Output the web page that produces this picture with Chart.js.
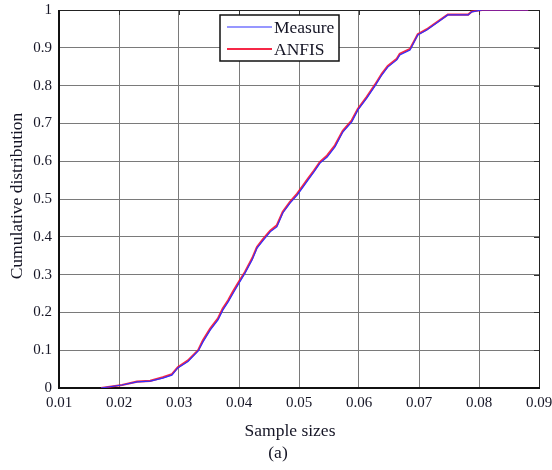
<!DOCTYPE html>
<html>
<head>
<meta charset="utf-8">
<script src="https://cdn.jsdelivr.net/npm/chart.js@4.4.1/dist/chart.umd.min.js"></script>
<style>
  body { margin: 0; background: #fff; }
  #wrap { width: 552px; height: 470px; }
</style>
</head>
<body>
<div id="wrap"><canvas id="chart"></canvas></div>
<script>
// sample sizes where the cumulative curve steps
const sizes = [0.0170, 0.0205, 0.0230, 0.0252, 0.0273, 0.0288, 0.0298, 0.0315, 0.0332, 0.0340,
  0.0352, 0.0365, 0.0373, 0.0382, 0.0390, 0.0398, 0.0410, 0.0422, 0.0430, 0.0440,
  0.0452, 0.0463, 0.0473, 0.0485, 0.0497, 0.0507, 0.0515, 0.0525, 0.0535, 0.0547,
  0.0560, 0.0573, 0.0588, 0.0598, 0.0613, 0.0627, 0.0638, 0.0648, 0.0663, 0.0668,
  0.0685, 0.0698, 0.0713, 0.0730, 0.0748, 0.0782, 0.0788, 0.0805, 0.0882];
const measure = [0, 0.008, 0.016, 0.018, 0.026, 0.034, 0.053, 0.070, 0.098, 0.122,
  0.153, 0.180, 0.206, 0.228, 0.250, 0.272, 0.304, 0.339, 0.370, 0.390,
  0.413, 0.426, 0.463, 0.489, 0.510, 0.532, 0.550, 0.572, 0.595, 0.611,
  0.638, 0.677, 0.704, 0.735, 0.767, 0.800, 0.828, 0.849, 0.868, 0.881,
  0.894, 0.934, 0.947, 0.966, 0.987, 0.987, 0.995, 1.0, 1.0];
const anfis = [0, 0.008, 0.017, 0.019, 0.028, 0.036, 0.055, 0.073, 0.100, 0.126,
  0.157, 0.184, 0.210, 0.232, 0.255, 0.276, 0.307, 0.343, 0.373, 0.394,
  0.416, 0.430, 0.466, 0.492, 0.514, 0.536, 0.554, 0.575, 0.598, 0.615,
  0.642, 0.680, 0.708, 0.738, 0.770, 0.803, 0.831, 0.852, 0.871, 0.884,
  0.897, 0.936, 0.949, 0.968, 0.988, 0.988, 0.996, 1.0, 1.0];
const seriesNames = ['Measure', 'ANFIS'];
const xTicks = [0.01, 0.02, 0.03, 0.04, 0.05, 0.06, 0.07, 0.08, 0.09];

const serif = '"Liberation Serif", "DejaVu Serif", serif';
const textColor = '#151525';

const pts = ys => sizes.map((x, i) => ({ x, y: ys[i] }));

// frame, inner tick marks, legend box and axis titles, drawn like a MATLAB figure
const matlabFrame = {
  id: 'matlabFrame',
  beforeDatasetsDraw(chart) {
    const { ctx, chartArea: a, scales } = chart;
    ctx.save();
    ctx.strokeStyle = '#333';
    ctx.lineWidth = 1;
    ctx.beginPath();
    scales.y.ticks.forEach(t => {
      const y = Math.round(scales.y.getPixelForValue(t.value)) + 0.5;
      ctx.moveTo(a.right - 5, y); ctx.lineTo(a.right, y);
    });
    scales.x.ticks.forEach(t => {
      const x = Math.round(scales.x.getPixelForValue(t.value)) + 0.5;
      ctx.moveTo(x, a.top); ctx.lineTo(x, a.top + 5);
    });
    ctx.stroke();
    ctx.strokeStyle = '#222';
    ctx.beginPath();
    ctx.moveTo(a.left, a.top + 0.5); ctx.lineTo(a.right + 0.5, a.top + 0.5);
    ctx.lineTo(a.right + 0.5, a.bottom);
    ctx.stroke();
    ctx.lineWidth = 2;
    ctx.strokeStyle = '#111';
    ctx.beginPath();
    ctx.moveTo(a.left, a.top); ctx.lineTo(a.left, a.bottom); ctx.lineTo(a.right + 1, a.bottom);
    ctx.stroke();
    ctx.restore();
  },
  afterDraw(chart) {
    const { ctx } = chart;
    ctx.save();
    ctx.fillStyle = textColor;
    ctx.font = '17.5px ' + serif;
    ctx.textAlign = 'center';
    ctx.textBaseline = 'middle';
    ctx.fillText('Sample sizes', 290, 431);
    ctx.fillText('(a)', 278, 453);
    ctx.save();
    ctx.translate(17, 196);
    ctx.rotate(-Math.PI / 2);
    ctx.fillText('Cumulative distribution', 0, 0);
    ctx.restore();

    // legend
    ctx.fillStyle = '#fff';
    ctx.fillRect(220, 15, 119, 46);
    ctx.strokeStyle = '#111';
    ctx.lineWidth = 1.5;
    ctx.strokeRect(220, 15, 119, 46);
    ctx.textAlign = 'left';
    chart.data.datasets.forEach((ds, i) => {
      const y = 27 + i * 22;
      ctx.strokeStyle = ds.borderColor;
      ctx.lineWidth = ds.borderWidth;
      ctx.beginPath();
      ctx.moveTo(227, y); ctx.lineTo(272, y);
      ctx.stroke();
      ctx.fillStyle = textColor;
      ctx.fillText(ds.label, 274, y + 1);
    });
    ctx.restore();
  }
};

new Chart(document.getElementById('chart'), {
  type: 'line',
  data: {
    datasets: [{
      label: seriesNames[0],
      data: pts(measure),
      borderColor: '#3030ff',
      borderWidth: 1.2,
      pointRadius: 0
    }, {
      label: seriesNames[1],
      data: pts(anfis),
      borderColor: 'rgba(245, 10, 45, 0.88)',
      borderWidth: 2.2,
      pointRadius: 0
    }]
  },
  options: {
    responsive: true,
    maintainAspectRatio: false,
    animation: false,
    layout: { padding: { left: 0, top: 10, right: 13, bottom: 0 } },
    plugins: { legend: { display: false }, tooltip: { enabled: false } },
    scales: {
      x: {
        type: 'linear',
        min: 0.01,
        max: 0.09,
        afterBuildTicks: scale => { scale.ticks = xTicks.map(value => ({ value })); },
        afterFit: scale => {
          scale.height = 82;
          scale.paddingLeft = 0;
          scale.paddingRight = 0;
        },
        grid: { color: '#7a7a7a', drawTicks: false },
        border: { display: false },
        ticks: {
          autoSkip: false,
          maxRotation: 0,
          padding: 6,
          color: textColor,
          font: { family: serif, size: 15 },
          callback: v => v.toFixed(2)
        }
      },
      y: {
        min: 0,
        max: 1,
        afterFit: scale => {
          scale.width = 59;
          scale.paddingTop = 0;
          scale.paddingBottom = 0;
        },
        grid: { color: '#7a7a7a', drawTicks: false },
        border: { display: false },
        ticks: {
          stepSize: 0.1,
          padding: 7,
          color: textColor,
          font: { family: serif, size: 15 },
          callback: v => String(Number(v.toFixed(2)))
        }
      }
    }
  },
  plugins: [matlabFrame]
});
</script>
</body>
</html>
